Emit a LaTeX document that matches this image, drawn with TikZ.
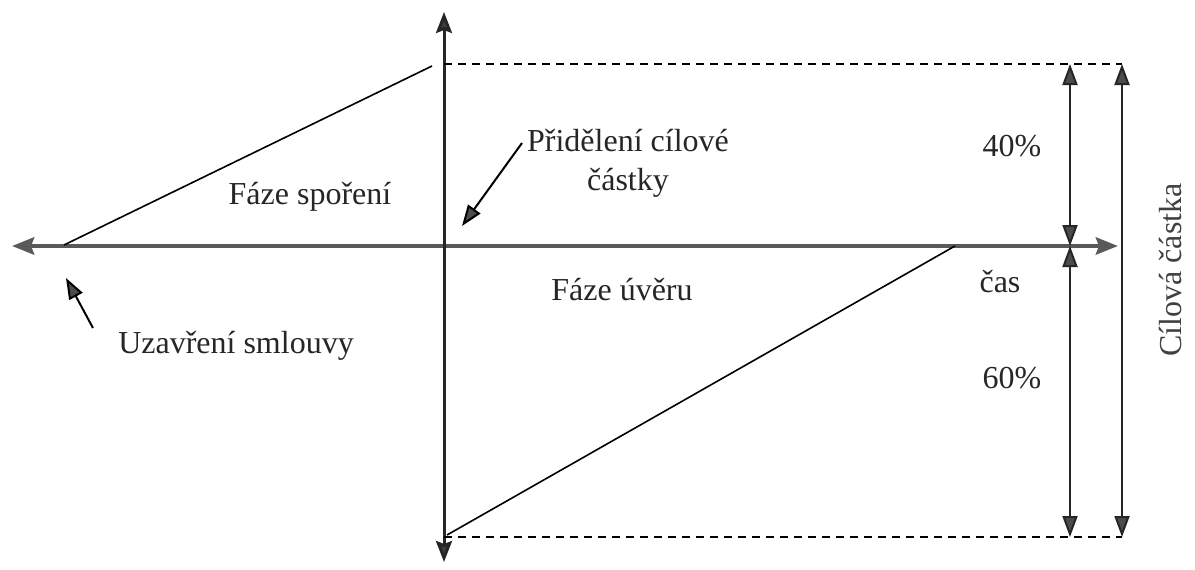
\documentclass[tikz,border=0pt]{standalone}
\usepackage{fontspec}
\setmainfont{Liberation Serif}
\usetikzlibrary{arrows.meta}
\begin{document}
\begin{tikzpicture}[x=1pt,y=-1pt,
  lbl/.style={font=\fontsize{32}{39}\selectfont, inner sep=0pt, align=center, text=black!85},
  haxis/.style={line width=4.5pt, draw=black!65, -{Stealth[length=22pt,width=17pt,inset=3pt,fill=black!70]}},
  vaxis/.style={line width=3pt, draw=black!85, -{Stealth[length=21pt,width=16pt,inset=3pt,fill=black!75]}},
  dimline/.style={line width=2pt, draw=black!85, {Triangle[length=21pt,width=15pt,fill=black!70]}-{Triangle[length=21pt,width=15pt,fill=black!70]}},
  guide/.style={line width=2.2pt, dash pattern=on 8pt off 6pt},
  slope/.style={line width=1.6pt},
  pointer/.style={line width=2pt, -{Triangle[length=21pt,width=15pt,fill=black!70]}}]
\useasboundingbox (0,0) rectangle (1195,570);
% coordinates
\coordinate (hl) at (12,246);
\coordinate (hr) at (1118,246);
\coordinate (vt) at (444,12);
\coordinate (vb) at (444,562);
\coordinate (o) at (444,246);
\coordinate (top) at (444,64);
\coordinate (bot) at (444,537);
\coordinate (topR) at (1122,64);
\coordinate (botR) at (1122,537);
\coordinate (d1t) at (1070,64);
\coordinate (d1m) at (1070,246);
\coordinate (d1b) at (1070,537);
\coordinate (s1a) at (64,245);
\coordinate (s1b) at (432,66);
\coordinate (s2a) at (447,535);
\coordinate (s2b) at (955,246);
\coordinate (p1t) at (522,143);
\coordinate (p1h) at (462,226);
\coordinate (p2t) at (93,328);
\coordinate (p2h) at (66,278);
% axes
\draw[haxis] (o) -- (hr);
\draw[haxis] (o) -- (hl);
\draw[vaxis] (o) -- (vt);
\draw[vaxis] (o) -- (vb);
% guides
\draw[guide] (top) -- (topR);
\draw[guide] (bot) -- (botR);
% slopes
\draw[slope] (s1a) -- (s1b);
\draw[slope] (s2a) -- (s2b);
% dimension arrows
\draw[dimline] (d1m) -- (d1t);
\draw[dimline] (d1m) -- (d1b);
\draw[dimline] (topR) -- (botR);
% pointers
\draw[pointer] (p1t) -- (p1h);
\draw[pointer] (p2t) -- (p2h);
% labels
\node[lbl] (sp) at (310,197) {Fáze spoření};
\node[lbl] (pc) at (628,163) {Přidělení cílové\\částky};
\node[lbl] (p40) at (1012,146) {40\%};
\node[lbl] (cas) at (1000,282) {čas};
\node[lbl] (uv) at (622,290) {Fáze úvěru};
\node[lbl] (p60) at (1012,378) {60\%};
\node[lbl] (uz) at (236,346) {Uzavření smlouvy};
\node[lbl, rotate=90, text=black!75] (cc) at (1171,270) {Cílová částka};
\end{tikzpicture}
\end{document}
